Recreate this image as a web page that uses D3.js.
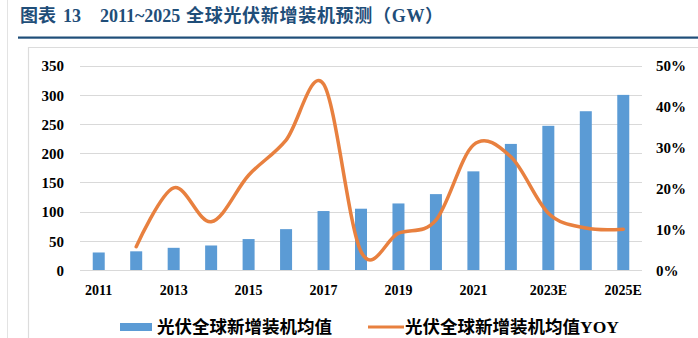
<!DOCTYPE html>
<html><head><meta charset="utf-8">
<script src="https://cdn.jsdelivr.net/npm/d3@7"></script>
<style>
html,body{margin:0;padding:0;background:#fff;}
svg{display:block;}
</style></head>
<body>
<svg id="c" width="698" height="338"></svg>
<script>
const categories = ["2011","2012","2013","2014","2015","2016","2017","2018","2019","2020","2021","2022","2023E","2024E","2025E"];
const installs = [30, 32, 38, 42, 53, 70, 101, 105, 114, 130, 169, 216, 247, 272, 300];
const yoy = [null, 5.7, 20.1, 11.8, 23.2, 31.8, 45.5, 4.5, 9.0, 12.2, 30.6, 27.7, 13.9, 10.3, 10.0];
const leftTicks = [0, 50, 100, 150, 200, 250, 300, 350];
const rightTicks = [0, 10, 20, 30, 40, 50];
const xTickLabels = ["2011","2013","2015","2017","2019","2021","2023E","2025E"];
const titleParts = ["图表", "13", "2011~2025", "全球光伏新增装机预测（GW）"];
const seriesNames = ["光伏全球新增装机均值", "光伏全球新增装机均值YOY"];

const svg = d3.select("#c");
const blue = "#5B9BD5", orange = "#E8803F", navy = "#1F4E79";
const serif = "'Liberation Serif','Times New Roman',serif";
const mixed = "'Liberation Serif','Noto Sans CJK SC',serif";

// page frame
svg.append("line").attr("x1",7.5).attr("x2",7.5).attr("y1",0).attr("y2",338).attr("stroke","#e3e3e3");
const titleX = [20, 63, 100, 186];
const tt = svg.append("text").attr("y",22).attr("fill",navy)
  .style("font-family", mixed).style("font-weight","bold").style("font-size","18px");
titleParts.forEach((p,i) => tt.append("tspan").attr("x", titleX[i]).style("letter-spacing", i === 3 ? "0.7px" : "0px").text(p));
svg.append("rect").attr("x",18).attr("y",36.5).attr("width",680).attr("height",2.2).attr("fill",navy);
svg.append("path").attr("d","M28.5,338 V47.5 H698").attr("fill","none").attr("stroke","#dcdcdc").attr("stroke-width",1.2);

const L = 80, R = 642, T = 65.7, B = 270;
const x = d3.scaleBand().domain(categories).range([L, R]).paddingInner(0).paddingOuter(0);
const yL = d3.scaleLinear().domain([0, 350]).range([B, T]);
const yR = d3.scaleLinear().domain([0, 50]).range([B, T]);

// gridlines
svg.append("g").selectAll("line").data(leftTicks).join("line")
  .attr("x1", L).attr("x2", R).attr("y1", d => Math.round(yL(d))+0.5).attr("y2", d => Math.round(yL(d))+0.5)
  .attr("stroke", "#d9d9d9").attr("stroke-width", 1);

// bars
const bw = 12;
svg.append("g").selectAll("rect").data(installs).join("rect")
  .attr("x", (d,i) => x(categories[i]) + x.bandwidth()/2 - bw/2)
  .attr("y", d => yL(d)).attr("width", bw).attr("height", d => yL(0) - yL(d))
  .attr("fill", blue);

// line
const pts = yoy.map((v,i) => [x(categories[i]) + x.bandwidth()/2, v]).filter(p => p[1] !== null);
svg.append("path").datum(pts)
  .attr("d", d3.line().x(d => d[0]).y(d => yR(d[1])).curve(d3.curveCardinal.tension(0)))
  .attr("fill","none").attr("stroke", orange).attr("stroke-width", 3.5).attr("stroke-linecap","round");

// left axis
const axL = svg.append("g").attr("transform", `translate(${L-16},0)`)
  .call(d3.axisLeft(yL).tickValues(leftTicks).tickSize(0).tickPadding(0));
axL.select(".domain").remove();
axL.selectAll("text").style("font-family", serif).style("font-weight","bold").style("font-size","15px").attr("fill","#000").attr("dy","0.35em");

// right axis
const axR = svg.append("g").attr("transform", `translate(${R+14},0)`)
  .call(d3.axisRight(yR).tickValues(rightTicks).tickSize(0).tickPadding(0).tickFormat(d => d + "%"));
axR.select(".domain").remove();
axR.selectAll("text").style("font-family", serif).style("font-weight","bold").style("font-size","15px").attr("fill","#000").attr("dy","0.35em");

// x axis
const axX = svg.append("g").attr("transform", `translate(0,${B})`)
  .call(d3.axisBottom(x).tickValues(xTickLabels).tickSize(0).tickPadding(20));
axX.select(".domain").remove();
axX.selectAll("text").style("font-family", serif).style("font-weight","bold").style("font-size","14px").attr("fill","#000").attr("dy","0.35em");

// legend
const lg = svg.append("g");
lg.append("rect").attr("x",120).attr("y",323).attr("width",32).attr("height",8).attr("fill",blue);
lg.append("text").attr("x",157).attr("y",327).attr("dy","0.35em").text(seriesNames[0])
  .style("font-family", mixed).style("font-weight","bold").style("font-size","17.5px").attr("fill","#000");
lg.append("line").attr("x1",368).attr("x2",404).attr("y1",327).attr("y2",327).attr("stroke",orange).attr("stroke-width",3);
lg.append("text").attr("x",405).attr("y",327).attr("dy","0.35em").text(seriesNames[1])
  .style("font-family", mixed).style("font-weight","bold").style("font-size","17.5px").attr("fill","#000");
</script>
</body></html>
